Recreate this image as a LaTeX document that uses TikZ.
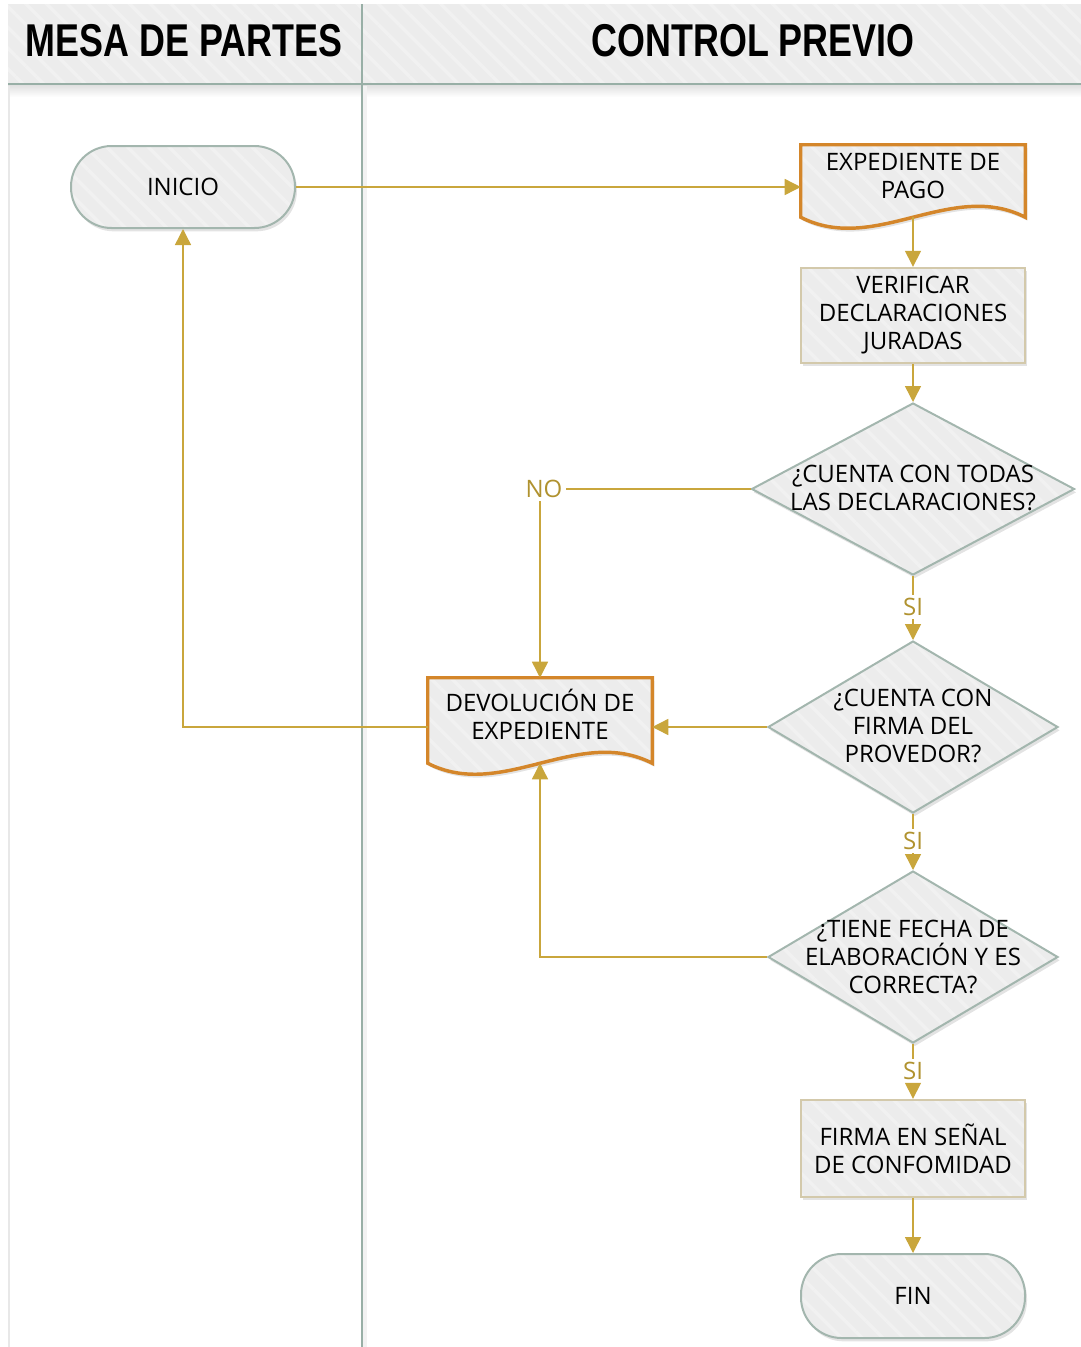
\documentclass[tikz,border=0pt]{standalone}
\usepackage{fontspec}
\setmainfont{Open Sans}
\newfontfamily\hdrfont[FakeStretch=0.78]{Liberation Sans}
\usetikzlibrary{shapes.geometric,arrows.meta,calc,shadows,patterns.meta}

\definecolor{hdrfill}{HTML}{EBEBEB}
\definecolor{boxfill}{HTML}{ECECEC}
\definecolor{stripe}{HTML}{F1F1F1}
\definecolor{laneline}{HTML}{98AFA6}
\definecolor{termline}{HTML}{A3B6AE}
\definecolor{procline}{HTML}{D3C9AB}
\definecolor{docline}{HTML}{D4862A}
\definecolor{conn}{HTML}{C9A63C}
\definecolor{lbl}{HTML}{B0922F}

\begin{document}
\begin{tikzpicture}[x=0.75pt,y=-0.75pt,
  bodytext/.style={font=\fontsize{18}{21}\selectfont, align=center, text=black, inner sep=0pt},
  hatched/.style={preaction={fill=boxfill},
    pattern={Lines[angle=-45,distance=11pt,line width=2.5pt]}, pattern color=stripe},
  softshadow/.style={drop shadow={shadow xshift=1.5pt, shadow yshift=-2.5pt, opacity=0.11, fill=black}},
  terminal/.style={softshadow, hatched, draw=termline, line width=1.5pt,
    rounded corners=30.5pt, minimum width=168pt, minimum height=61.5pt, bodytext},
  process/.style={softshadow, hatched, draw=procline, line width=1.8pt,
    minimum width=168pt, bodytext},
  decision/.style={softshadow, hatched, diamond, draw=termline, line width=1.5pt, inner sep=0pt},
  docbox/.style={rectangle, draw=none, minimum width=168pt, inner sep=0pt},
  docshape/.style={softshadow, hatched, draw=docline, line width=2.6pt, line join=miter},
  qtext/.style={bodytext},
  answer/.style={font=\fontsize{18}{21}\selectfont, text=lbl, inner sep=2.5pt},
  link/.style={draw=conn, line width=1.1pt},
  arrow/.style={link, -{Triangle[length=12pt,width=12pt]}},
  lanehdr/.style={font=\hdrfont\bfseries\fontsize{34.5}{40}\selectfont, text=black, inner sep=0pt}
]
\useasboundingbox (0,0) rectangle (1081,1347);

% ---- swimlane frame ----
\fill[hatched] (8,4) rectangle (1081,84);
\shade[top color=black!12, bottom color=white] (8,85) rectangle (1081,97);
\draw[black!9, line width=1.5pt] (9,86) -- (9,1347);
\draw[laneline, line width=2pt] (8,84) -- (1081,84);
\draw[black!5, line width=3pt] (365,86) -- (365,1347);
\draw[laneline, line width=1.8pt] (362,4) -- (362,1347);

\node[lanehdr] (laneA) at (184,41) {MESA DE PARTES};
\node[lanehdr] (laneB) at (753,41) {CONTROL PREVIO};

% ---- flow elements ----
\node[terminal] (inicio) at (183,187) {INICIO};

\node[docbox, minimum height=54pt] (exp) at (913,181) {};
\draw[docshape] (exp.south west)
  .. controls ($(exp.south west)!0.33!(exp.south east)+(0,38)$)
  and ($(exp.south west)!0.67!(exp.south east)+(0,-38)$) .. (exp.south east)
  -- (exp.north east) -- (exp.north west) -- cycle;
\node[bodytext] (expt) at (913,176) {EXPEDIENTE DE\\PAGO};

\node[process, minimum height=71.25pt] (ver) at (913,315.5) {VERIFICAR\\DECLARACIONES\\JURADAS};

\node[decision, minimum width=242.25pt, minimum height=129pt] (d1) at (913,489) {};
\node[qtext] (d1t) at (913,488) {¿CUENTA CON TODAS\\LAS DECLARACIONES?};

\node[decision, minimum width=217.5pt, minimum height=129pt] (d2) at (913,727) {};
\node[qtext] (d2t) at (913,726) {¿CUENTA CON\\FIRMA DEL\\PROVEDOR?};

\node[decision, minimum width=217.5pt, minimum height=129pt] (d3) at (913,957) {};
\node[qtext] (d3t) at (913,957) {¿TIENE FECHA DE\\ELABORACIÓN Y ES\\CORRECTA?};

\node[process, minimum height=72.75pt] (firma) at (913,1148.5) {FIRMA EN SEÑAL\\DE CONFOMIDAD};

\node[terminal, minimum height=63pt] (fin) at (913,1296) {FIN};

\node[docbox, minimum height=63.75pt] (dev) at (540,720.5) {};
\draw[docshape] (dev.south west)
  .. controls ($(dev.south west)!0.33!(dev.south east)+(0,38)$)
  and ($(dev.south west)!0.67!(dev.south east)+(0,-38)$) .. (dev.south east)
  -- (dev.north east) -- (dev.north west) -- cycle;
\node[bodytext] (devt) at (540,714) {DEVOLUCIÓN DE\\EXPEDIENTE};

% ---- answer labels ----
\node[answer] (no) at (544,489) {NO};
\node[answer] (si1) at (913,607) {SI};
\node[answer] (si2) at (913,841) {SI};
\node[answer] (si3) at (913,1071) {SI};

% ---- connectors ----
\draw[arrow] (inicio.east) -- (inicio.east -| exp.west);
\draw[arrow] (exp.south) -- (ver.north);
\draw[arrow] (ver.south) -- (d1.north);
\draw[link] (d1.west) -- (no.east);
\draw[arrow] (no.south -| dev.north) -- (dev.north);
\draw[link] (d1.south) -- (si1.north);
\draw[arrow] (si1.south) -- (d2.north);
\draw[arrow] (d2.west) -- (d2.west -| dev.east);
\draw[link] (d2.south) -- (si2.north);
\draw[arrow] (si2.south) -- (d3.north);
\draw[arrow] (d3.west) -| (dev.south);
\draw[link] (d3.south) -- (si3.north);
\draw[arrow] (si3.south) -- (firma.north);
\draw[arrow] (firma.south) -- (fin.north);
\draw[arrow] (dev.west |- d2.west) -| (inicio.south);
\end{tikzpicture}
\end{document}
